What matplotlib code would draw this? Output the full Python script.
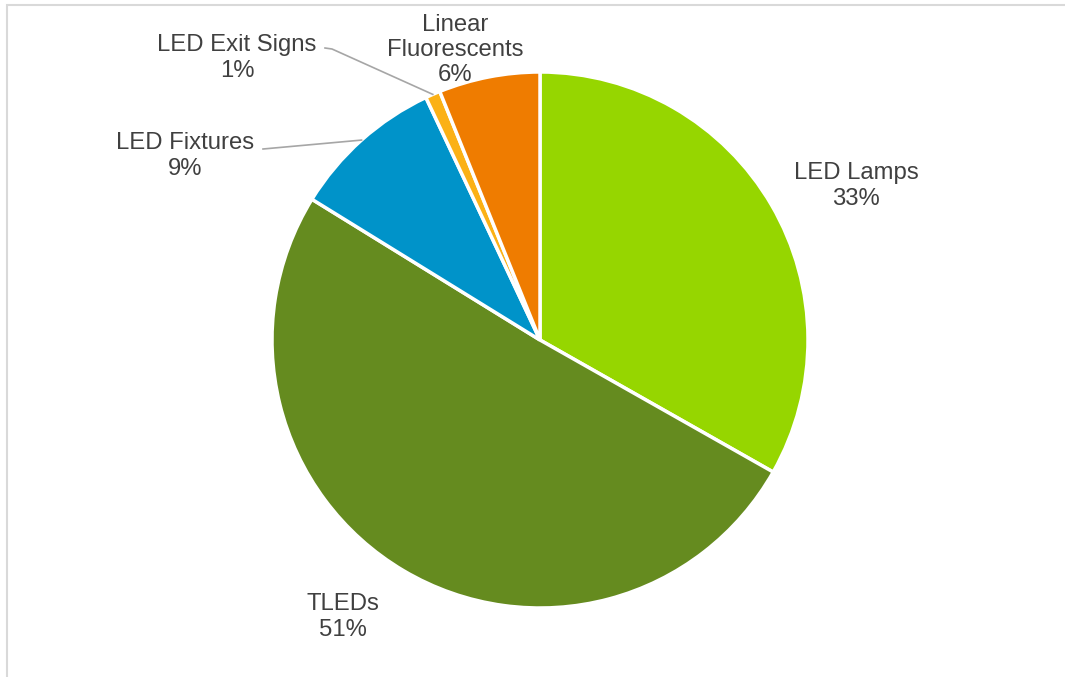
import numpy as np
import matplotlib
matplotlib.use("Agg")
import matplotlib.pyplot as plt
from matplotlib.patches import Rectangle

labels = ["LED Lamps", "TLEDs", "LED Fixtures", "LED Exit Signs", "Linear\nFluorescents"]
shares = [33.2, 50.6, 9.2, 0.9, 6.1]
colors = ["#96d600", "#658b1f", "#0093c9", "#fbb116", "#ef7c00"]

# label centres in pixel coords (from top-left)
label_pos = [(856, 186), (343, 617), (185, 156), (237, 58), (455, 50)]

W, H = 1065, 677
plt.rcParams["font.family"] = ["Liberation Sans", "DejaVu Sans"]

fig = plt.figure(figsize=(W / 100, H / 100), dpi=100)
ax = fig.add_axes([0, 0, 1, 1])

cx, cy, r = 540, H - 340, 268
wedges, _ = ax.pie(shares, colors=colors, startangle=90, counterclock=False,
                   center=(cx, cy), radius=r, frame=True,
                   wedgeprops=dict(edgecolor="white", linewidth=2.5))
ax.set_xlim(0, W)
ax.set_ylim(0, H)
ax.axis("off")

for lab, v, (lx, ly) in zip(labels, shares, label_pos):
    ax.text(lx, H - ly, f"{lab}\n{v:.0f}%", ha="center", va="center",
            fontsize=17.2, color="#404040", linespacing=1.18)

# leader lines for the small slices
def edge_point(w):
    a = np.deg2rad((w.theta1 + w.theta2) / 2)
    return cx + r * np.cos(a), cy + r * np.sin(a)

px, py = edge_point(wedges[2])
ax.plot([263, px], [H - 149, py], color="#a6a6a6", lw=1.2)
px, py = edge_point(wedges[3])
ax.plot([325, 332, px], [H - 48, H - 49, py], color="#a6a6a6", lw=1.2)

ax.add_patch(Rectangle((6.5, -10), W + 20, H - 4.5 + 10, fill=False,
                       edgecolor="#d9d9d9", lw=1.5, clip_on=False))

fig.savefig("out.png", dpi=100)
